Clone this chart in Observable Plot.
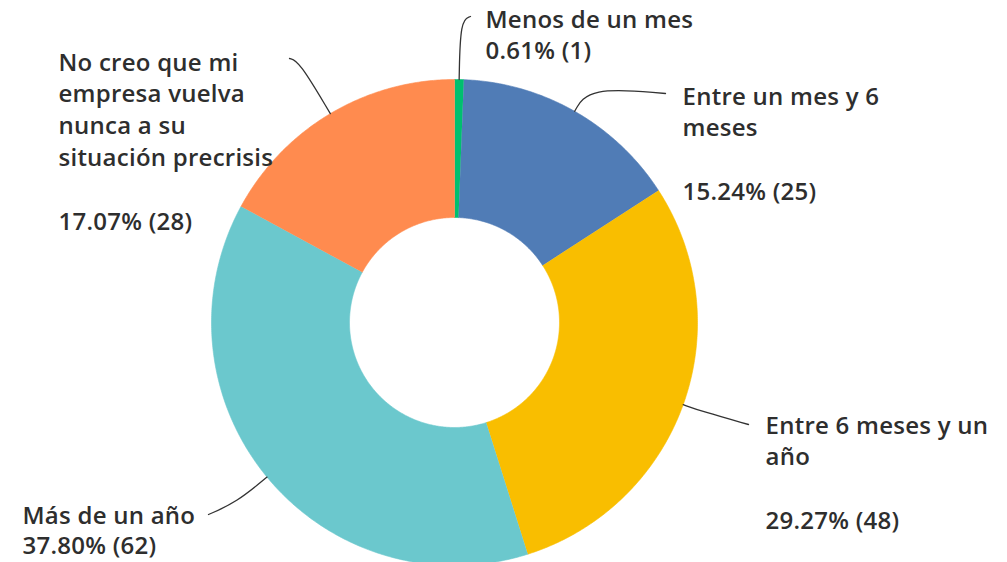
<!DOCTYPE html>
<html><head><meta charset="utf-8">
<script src="https://cdn.jsdelivr.net/npm/d3@7"></script>
<script src="https://cdn.jsdelivr.net/npm/@observablehq/plot@0.6"></script>
<style>body{margin:0;background:#fff}</style>
</head><body><div id="chart"></div>
<script>
// ---- data ----
const categories = [
  "Menos de un mes",
  "Entre un mes y 6 meses",
  "Entre 6 meses y un año",
  "Más de un año",
  "No creo que mi empresa vuelva nunca a su situación precrisis"
];
const labelLines = [
  ["Menos de un mes"],
  ["Entre un mes y 6", "meses"],
  ["Entre 6 meses y un", "año"],
  ["Más de un año"],
  ["No creo que mi", "empresa vuelva", "nunca a su", "situación precrisis"]
];
const counts = [1, 25, 48, 62, 28];

// ---- style / layout ----
const colors = ["#00BF6F", "#507CB6", "#F9BE00", "#6BC8CD", "#FF8B4F"];
const W = 1007, H = 562, CX = 454, CY = 322, R_OUT = 243, R_IN = 105;
const FS = 24, LH = 32;
const labelLayout = [
  {x: 485, base: 27,  gap: false, elbow: 60, end: [470, 16]},
  {x: 682, base: 104, gap: true,  elbow: 28, end: [665, 93]},
  {x: 765, base: 433, gap: true,  elbow: 20, end: [748, 424]},
  {x: 22,  base: 523, gap: false, elbow: 40, end: [208, 514], lh: 31},
  {x: 58,  base: 70,  gap: true,  elbow: 62, end: [289, 58]}
];

const total = d3.sum(counts);
const slicePts = [], leaderPts = [], labels = [];
let acc = 0;
counts.forEach((c, i) => {
  const a0 = acc / total * 2 * Math.PI;
  acc += c;
  const a1 = acc / total * 2 * Math.PI;
  const n = Math.max(2, Math.ceil((a1 - a0) / (Math.PI / 360)));
  for (let k = 0; k <= n; k++) {
    const a = a0 + (a1 - a0) * k / n;
    slicePts.push({i, x: CX + R_OUT * Math.sin(a), y: CY - R_OUT * Math.cos(a)});
  }
  for (let k = n; k >= 0; k--) {
    const a = a0 + (a1 - a0) * k / n;
    slicePts.push({i, x: CX + R_IN * Math.sin(a), y: CY - R_IN * Math.cos(a)});
  }
  const am = (a0 + a1) / 2, L = labelLayout[i];
  leaderPts.push({i, x: CX + R_OUT * Math.sin(am), y: CY - R_OUT * Math.cos(am)});
  leaderPts.push({i, x: CX + (R_OUT + L.elbow) * Math.sin(am), y: CY - (R_OUT + L.elbow) * Math.cos(am)});
  leaderPts.push({i, x: L.end[0], y: L.end[1]});
  const pct = (c / total * 100).toFixed(2) + "% (" + c + ")";
  const lines = labelLines[i].concat(L.gap ? ["", pct] : [pct]);
  const lh = L.lh || LH;
  labels.push({x: L.x, y: L.base - 0.71 * lh, text: lines.join("\n"), name: categories[i], lh});
});

const textMarks = d3.groups(labels, d => d.lh).map(([lh, rows]) =>
  Plot.text(rows, {x: "x", y: "y", text: "text", textAnchor: "start", lineAnchor: "top",
    lineHeight: lh / FS, fontSize: FS, fontWeight: 600, fill: "#2e2e2e", fontFamily: "Open Sans"})
);

const chart = Plot.plot({
  width: W, height: H, margin: 0,
  x: {domain: [0, W], range: [0, W], axis: null},
  y: {domain: [0, H], range: [0, H], axis: null},
  color: {type: "identity"},
  style: {background: "#fff", letterSpacing: "0.25px"},
  marks: [
    Plot.line(slicePts, {x: "x", y: "y", z: "i", fill: d => colors[d.i], stroke: d => colors[d.i], strokeWidth: 0.6, curve: "linear"}),
    Plot.line(leaderPts, {x: "x", y: "y", z: "i", curve: "basis", stroke: "#333", strokeWidth: 1.3}),
    ...textMarks
  ]
});
document.getElementById("chart").append(chart);
</script>
</body></html>
